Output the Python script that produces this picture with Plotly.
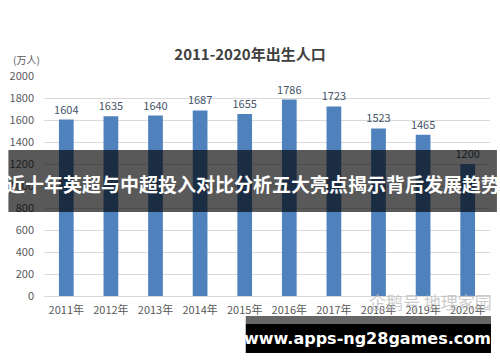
import plotly.graph_objects as go

years = ["2011年", "2012年", "2013年", "2014年", "2015年", "2016年", "2017年", "2018年", "2019年", "2020年"]
births = [1604, 1635, 1640, 1687, 1655, 1786, 1723, 1523, 1465, 1200]
y_ticks = [0, 200, 400, 600, 800, 1000, 1200, 1400, 1600, 1800, 2000]

W, H = 500, 362
L, R, T, B = 39, 10, 76, 66
pw, ph = W - L - R, H - T - B

def px(x):
    return (x - L) / pw

def py(y):
    return (H - B - y) / ph

FONT = "Noto Sans CJK SC, DejaVu Sans, sans-serif"

fig = go.Figure()
fig.add_trace(go.Bar(
    x=years, y=births,
    marker=dict(color="#4F81BD", line=dict(width=0)),
    width=0.33,
    text=[str(v) for v in births],
    textposition="outside",
    constraintext="none",
    textfont=dict(family=FONT, size=11, color="#44546A"),
    cliponaxis=False,
    hoverinfo="skip",
))

fig.update_layout(
    width=W, height=H,
    margin=dict(l=L, r=R, t=T, b=B),
    paper_bgcolor="white", plot_bgcolor="white",
    showlegend=False,
    bargap=0.67,
    title=dict(text="<b>2011-2020年出生人口</b>", x=0.5, xanchor="center",
               y=1 - 55 / H, yanchor="middle",
               font=dict(family=FONT, size=15, color="#404040")),
    xaxis=dict(showgrid=False, showline=False, ticks="",
               tickfont=dict(family=FONT, size=11, color="#595959"),
               ticklabelstandoff=6, fixedrange=True),
    yaxis=dict(range=[0, 2000], tickvals=y_ticks, showgrid=True,
               gridcolor="#D9D9D9", gridwidth=1, zeroline=True,
               zerolinecolor="#D9D9D9", zerolinewidth=1,
               tickfont=dict(family=FONT, size=11, color="#595959"),
               ticklabelstandoff=9, ticks="", showline=False, fixedrange=True),
    font=dict(family=FONT),
)

# unit label
fig.add_annotation(text="(万人)", xref="paper", yref="paper", x=px(6), y=py(60),
                   xanchor="left", yanchor="middle", showarrow=False,
                   font=dict(family=FONT, size=10, color="#595959"))

# watermark
fig.add_annotation(text="企鹅号 地理家园", xref="paper", yref="paper", x=px(430), y=py(301),
                   xanchor="center", yanchor="middle", showarrow=False,
                   font=dict(family=FONT, size=17, color="rgba(185,185,185,0.75)"))

# overlay banner
fig.add_shape(type="rect", xref="paper", yref="paper",
              x0=px(3), x1=px(497), y0=py(212), y1=py(150),
              fillcolor="rgba(0,0,0,0.65)", line=dict(width=0), layer="above")
fig.add_annotation(text="<b>近十年英超与中超投入对比分析五大亮点揭示背后发展趋势</b>",
                   xref="paper", yref="paper", x=px(250), y=py(183),
                   xanchor="center", yanchor="middle", showarrow=False,
                   font=dict(family=FONT, size=19, color="white"))

# bottom url banner
fig.add_shape(type="rect", xref="paper", yref="paper",
              x0=px(243), x1=px(491), y0=py(324), y1=py(316),
              fillcolor="#666666", line=dict(width=0), layer="above")
fig.add_shape(type="rect", xref="paper", yref="paper",
              x0=px(243), x1=px(491), y0=py(353), y1=py(324),
              fillcolor="black", line=dict(width=0), layer="above")
fig.add_annotation(text="<b>www.apps-ng28games.com</b>",
                   xref="paper", yref="paper", x=px(366), y=py(338),
                   xanchor="center", yanchor="middle", showarrow=False,
                   font=dict(family="DejaVu Sans, sans-serif", size=16, color="white"))

fig.write_html("out.html", config={"displayModeBar": False},
               post_script="document.body.style.margin='0';document.body.style.padding='0';")
